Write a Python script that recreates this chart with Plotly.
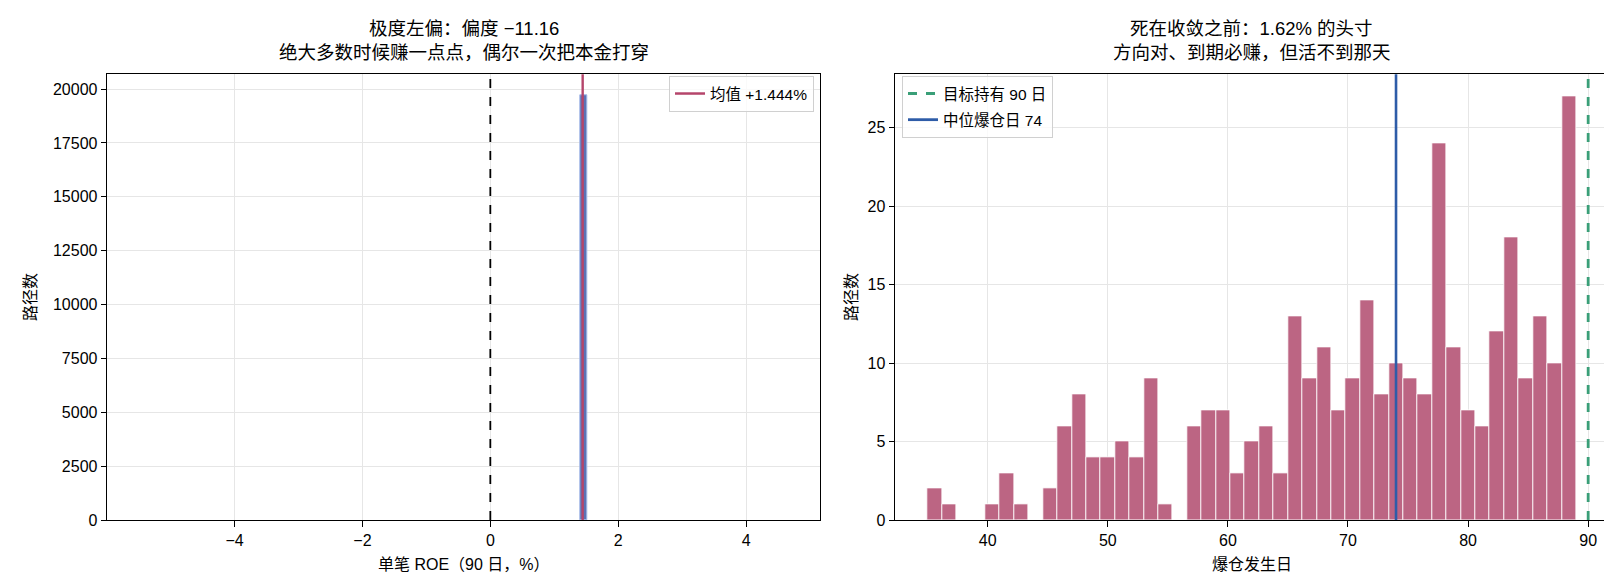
import plotly.graph_objects as go

# ---- dados ----
# painel esquerdo: histograma do ROE por operacao (so o bin visivel)
roe_centros = [1.46]
roe_contagens = [19690]
roe_largura_bin = 0.101
roe_media = 1.444
roe_skew = -11.16

# painel direito: dia da liquidacao (45 bins de 1.2 dia a partir de 35)
dia_inicio = 35.0
dia_largura_bin = 1.2
dia_contagens = [2, 1, 0, 0, 1, 3, 1, 0, 2, 6, 8, 4, 4, 5, 4, 9, 1, 0, 6, 7, 7, 3, 5,
                 6, 3, 13, 9, 11, 7, 9, 14, 8, 10, 9, 8, 24, 11, 7, 6, 12, 18, 9, 13,
                 10, 27]
dia_alvo = 90
dia_mediana = 74
pct_liquidado = 1.62

dia_centros = [dia_inicio + dia_largura_bin * (i + 0.5) for i in range(len(dia_contagens))]

FONTE = 'Liberation Sans, Noto Sans CJK SC, sans-serif'
VERMELHO = '#b5456b'
AZUL = '#2e5ca8'
VERDE = '#3a9f78'

fig = go.Figure()

# GRAFICO 01 / ROE
fig.add_trace(go.Bar(
    x=roe_centros, y=roe_contagens, width=roe_largura_bin,
    marker=dict(color='#5b72b5', line=dict(color='#a3b9e8', width=1)),
    showlegend=False, xaxis='x', yaxis='y'))
fig.add_trace(go.Scatter(
    x=[None], y=[None], mode='lines', name=f'均值 +{roe_media:.3f}%',
    line=dict(color=VERMELHO, width=2.5), xaxis='x', yaxis='y', legend='legend'))

# GRAFICO 02 / dia da liquidacao
fig.add_trace(go.Bar(
    x=dia_centros, y=dia_contagens, width=dia_largura_bin,
    marker=dict(color='#bc6583', line=dict(color='white', width=0.8)),
    showlegend=False, xaxis='x2', yaxis='y2'))
fig.add_trace(go.Scatter(
    x=[None], y=[None], mode='lines', name=f'目标持有 {dia_alvo} 日', legendgroup='alvo',
    line=dict(color=VERDE, width=2.8, dash='dash'), xaxis='x2', yaxis='y2', legend='legend2'))
fig.add_trace(go.Scatter(
    x=[None], y=[None], mode='lines', name=f'中位爆仓日 {dia_mediana}', legendgroup='mediana',
    line=dict(color=AZUL, width=2.8), xaxis='x2', yaxis='y2', legend='legend2'))

# linhas verticais
linhas = [
    ('x', 'y domain', 0, dict(color='black', width=1.8, dash='dash')),
    ('x', 'y domain', roe_media, dict(color=VERMELHO, width=2.4)),
    ('x2', 'y2 domain', dia_alvo, dict(color=VERDE, width=2.8, dash='dash')),
    ('x2', 'y2 domain', dia_mediana, dict(color=AZUL, width=2.6)),
]
for xr, yr, xv, estilo in linhas:
    fig.add_shape(type='line', xref=xr, yref=yr, x0=xv, x1=xv, y0=0, y1=1, line=estilo)

eixo = dict(showline=True, linecolor='black', linewidth=1.3, mirror=True,
            ticks='outside', ticklen=5.5, tickwidth=1.2, tickcolor='black',
            showgrid=True, gridcolor='#e6e6e6', gridwidth=1, zeroline=False,
            tickfont=dict(size=16, color='black'))

fig.update_layout(
    width=1612, height=587,
    paper_bgcolor='white', plot_bgcolor='white',
    font=dict(family=FONTE, size=16, color='black'),
    margin=dict(l=0, r=0, t=0, b=0),
    bargap=0,
    xaxis=dict(eixo, domain=[0.0616, 0.5039], range=[-5.99, 5.16], tickvals=[-4, -2, 0, 2, 4],
               ticktext=['−4', '−2', '0', '2', '4'], anchor='y'),
    yaxis=dict(eixo, domain=[0.1141, 0.8853], range=[0, 20686], dtick=2500,
               tickformat='d', anchor='x'),
    xaxis2=dict(eixo, domain=[0.5504, 0.9927], range=[32.3, 91.67], dtick=10, anchor='y2'),
    yaxis2=dict(eixo, domain=[0.1141, 0.8853], range=[0, 28.4], dtick=5, anchor='x2'),
    legend=dict(x=806 / 1612, xanchor='right', y=(587 - 69) / 587, yanchor='top',
                bgcolor='rgba(255,255,255,0.8)', bordercolor='#d0d0d0', borderwidth=1,
                font=dict(size=15.5), tracegroupgap=3),
    legend2=dict(x=894 / 1612, xanchor='left', y=(587 - 69) / 587, yanchor='top',
                 bgcolor='rgba(255,255,255,0.8)', bordercolor='#d0d0d0', borderwidth=1,
                 font=dict(size=15.5), tracegroupgap=3),
)

# titulos e rotulos dos eixos
centro_esq = (99.3 + 812.3) / 2 / 1612
centro_dir = (887.3 + 1600.3) / 2 / 1612
textos = [
    (centro_esq, 21, f'极度左偏：偏度 −{abs(roe_skew):.2f}', 18.5),
    (centro_esq, 45, '绝大多数时候赚一点点，偶尔一次把本金打穿', 18.5),
    (centro_dir, 21, f'死在收敛之前：{pct_liquidado:.2f}% 的头寸', 18.5),
    (centro_dir, 45, '方向对、到期必赚，但活不到那天', 18.5),
    (centro_esq, 565, '单笔 ROE（90 日，%）', 16),
    (centro_dir, 565, '爆仓发生日', 16),
]
for x, ypx, txt, tam in textos:
    fig.add_annotation(x=x, xref='paper', y=(587 - ypx) / 587, yref='paper', text=txt,
                       showarrow=False, xanchor='center', yanchor='middle',
                       font=dict(size=tam))
for xpx in [22, 843]:
    fig.add_annotation(x=xpx / 1612, xref='paper', y=(587 - 293.6) / 587, yref='paper',
                       text='路径数', textangle=-90, showarrow=False,
                       xanchor='center', yanchor='middle', font=dict(size=16))

fig.write_html('out.html')
